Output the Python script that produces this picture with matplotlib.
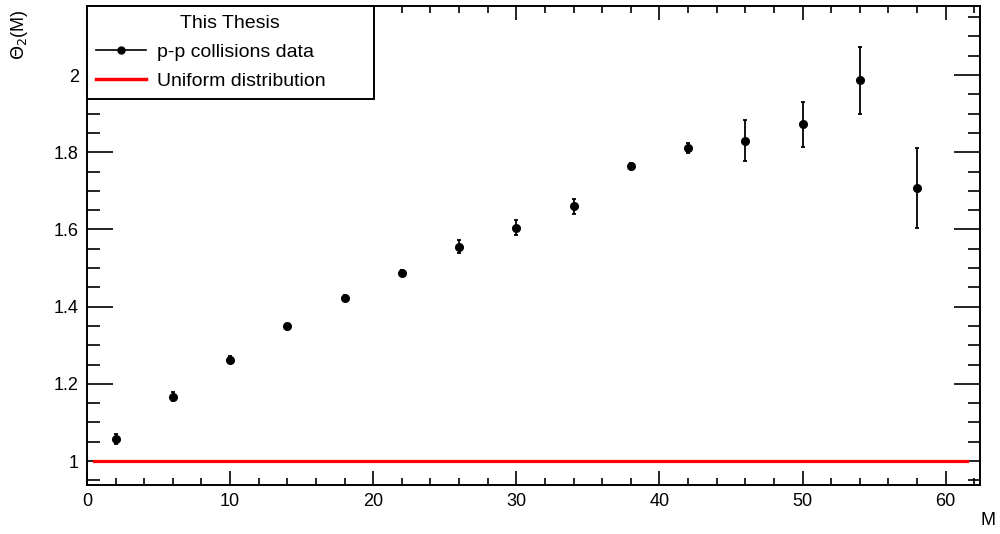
import numpy as np
import matplotlib
matplotlib.use("Agg")
from matplotlib import pyplot as plt
from matplotlib.lines import Line2D
from matplotlib.ticker import MultipleLocator

# measured moments
m_values = [2, 6, 10, 14, 18, 22, 26, 30, 34, 38, 42, 46, 50, 54, 58]
theta2 = [1.057, 1.167, 1.263, 1.350, 1.423, 1.487, 1.555, 1.605, 1.660,
          1.765, 1.812, 1.830, 1.872, 1.987, 1.707]
theta2_err = [0.013, 0.012, 0.009, 0.006, 0.008, 0.007, 0.017, 0.019, 0.020,
              0.007, 0.013, 0.053, 0.058, 0.087, 0.104]
uniform_x = [0.5, 61.5]
uniform_y = [1.0, 1.0]

plt.rcParams["font.family"] = ["Liberation Sans", "DejaVu Sans"]
plt.rcParams["font.size"] = 13

fig = plt.figure(figsize=(10, 5.34), dpi=100)
ax = fig.add_axes([0.087, 0.0918, 0.893, 0.897])

ax.plot(uniform_x, uniform_y, color="#ff0000", linewidth=2.3, zorder=2)
ax.errorbar(m_values, theta2, yerr=theta2_err, fmt="o", color="black",
            markersize=5.5, elinewidth=1.3, capsize=1.5, capthick=1.3, zorder=3)

ax.set_xlim(0, 62.4)
ax.set_ylim(0.938, 2.179)
ax.xaxis.set_major_locator(MultipleLocator(10))
ax.xaxis.set_minor_locator(MultipleLocator(2))
ax.yaxis.set_minor_locator(MultipleLocator(0.05))
ax.set_yticks([1, 1.2, 1.4, 1.6, 1.8, 2])
ax.set_yticklabels(["1", "1.2", "1.4", "1.6", "1.8", "2"])

ax.tick_params(axis="both", which="both", direction="in", top=True, right=True, width=1.2)
ax.tick_params(axis="x", which="major", length=10, pad=6)
ax.tick_params(axis="x", which="minor", length=5)
ax.tick_params(axis="y", which="major", length=19, pad=6)
ax.tick_params(axis="y", which="minor", length=9)
for sp in ax.spines.values():
    sp.set_linewidth(1.4)

fig.text(0.988, 0.026, "M", ha="center", va="center", fontsize=13)
fig.text(0.02, 0.935, r"$\Theta_2$(M)", ha="center", va="center", rotation=90, fontsize=13)

handles = [Line2D([], [], color="black", marker="o", markersize=5, linewidth=1.2),
           Line2D([], [], color="#ff0000", linewidth=2.5)]
leg = ax.legend(handles, ["p-p collisions data", "Uniform distribution"],
                title="This Thesis", loc="upper left",
                bbox_to_anchor=(0, 0.805, 0.321, 0.195), mode="expand",
                borderaxespad=0, fancybox=False, framealpha=1, edgecolor="black",
                fontsize=14, title_fontsize=14, handlelength=2.6, handletextpad=0.55,
                labelspacing=0.6, borderpad=0.45)
leg.get_frame().set_linewidth(1.4)

fig.savefig("out.png", dpi=100)
